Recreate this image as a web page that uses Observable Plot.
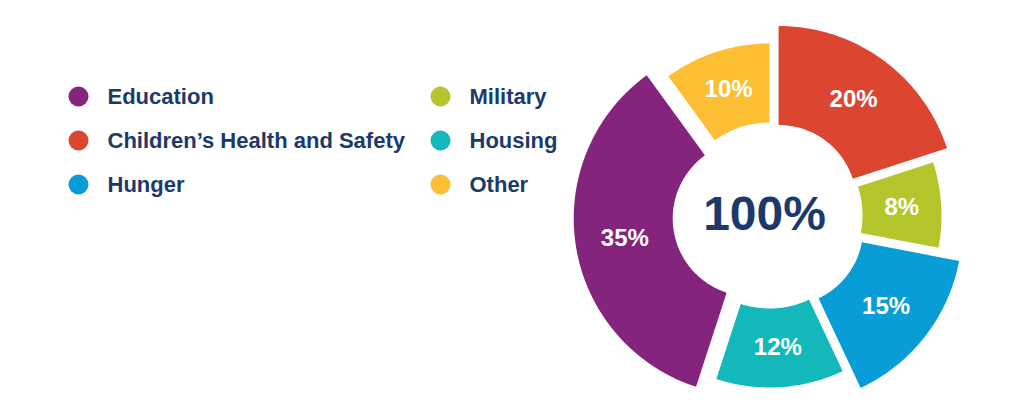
<!DOCTYPE html>
<html>
<head>
<meta charset="utf-8">
<script src="https://cdn.jsdelivr.net/npm/d3@7"></script>
<script src="https://cdn.jsdelivr.net/npm/@observablehq/plot@0.6"></script>
<style>
  html, body { margin: 0; padding: 0; background: #ffffff; }
  #chart svg { display: block; }
</style>
</head>
<body>
<div id="chart"></div>
<script>
// ---- data ----
const categories = ["Children’s Health and Safety", "Military", "Hunger", "Housing", "Education", "Other"];
const values = [20, 8, 15, 12, 35, 10];
const colors = ["#dc4631", "#b4c62c", "#099dd8", "#13b9ba", "#84247c", "#fcbf33"];
const legendOrder = ["Education", "Children’s Health and Safety", "Hunger", "Military", "Housing", "Other"];
const centerLabel = "100%";

// ---- layout / style ----
const W = 1024, H = 419;
const CX = 769, CY = 215;
const pull   = [15.5, 0, 20, 0, 19, 0];
const innerR = [78, 93, 78, 93, 78, 93];
const outerR = [177, 172, 177, 172, 177, 172];
const navy = "#1b3a6b";
const font = "'Liberation Sans', Arial, Helvetica, sans-serif";

const total = d3.sum(values);
let acc = 0;
const slices = categories.map((name, i) => {
  const a0 = acc / total * 2 * Math.PI;
  acc += values[i];
  const a1 = acc / total * 2 * Math.PI;
  return {name, value: values[i], i, a0, a1, mid: (a0 + a1) / 2};
});

const pts = [];
for (const s of slices) {
  const ax = CX + pull[s.i] * Math.sin(s.mid);
  const ay = CY - pull[s.i] * Math.cos(s.mid);
  const n = Math.max(8, Math.ceil((s.a1 - s.a0) / (Math.PI / 180)));
  for (let k = 0; k <= n; k++) {
    const a = s.a0 + (s.a1 - s.a0) * k / n;
    pts.push({name: s.name, x: ax + outerR[s.i] * Math.sin(a), y: ay - outerR[s.i] * Math.cos(a)});
  }
  for (let k = n; k >= 0; k--) {
    const a = s.a0 + (s.a1 - s.a0) * k / n;
    pts.push({name: s.name, x: ax + innerR[s.i] * Math.sin(a), y: ay - innerR[s.i] * Math.cos(a)});
  }
  const rm = (innerR[s.i] + outerR[s.i]) / 2;
  s.lx = ax + rm * Math.sin(s.mid);
  s.ly = ay - rm * Math.cos(s.mid);
}

const legendItems = legendOrder.map((name, j) => ({
  name,
  x: 78 + Math.floor(j / 3) * 362,
  y: 96 + (j % 3) * 44
}));

const chart = Plot.plot({
  width: W,
  height: H,
  margin: 0,
  style: {fontFamily: font, background: "#ffffff"},
  x: {domain: [0, W], range: [0, W], axis: null},
  y: {domain: [0, H], range: [0, H], axis: null},
  color: {domain: categories, range: colors},
  marks: [
    Plot.line(pts, {x: "x", y: "y", z: "name", fill: "name", stroke: null, curve: "linear"}),
    Plot.text(slices, {x: "lx", y: "ly", text: d => d.value + "%", fill: "white", fontSize: 24, fontWeight: "bold"}),
    Plot.text([centerLabel], {x: () => CX - 5, y: () => CY - 1, text: d => d, fill: navy, fontSize: 48, fontWeight: "bold"}),
    Plot.dot(legendItems, {x: "x", y: "y", r: 10, fill: "name", stroke: null}),
    Plot.text(legendItems, {x: d => d.x + 29, y: "y", text: "name", textAnchor: "start", fill: navy, fontSize: 22, fontWeight: "bold"})
  ]
});
document.getElementById("chart").appendChild(chart);
</script>
</body>
</html>
